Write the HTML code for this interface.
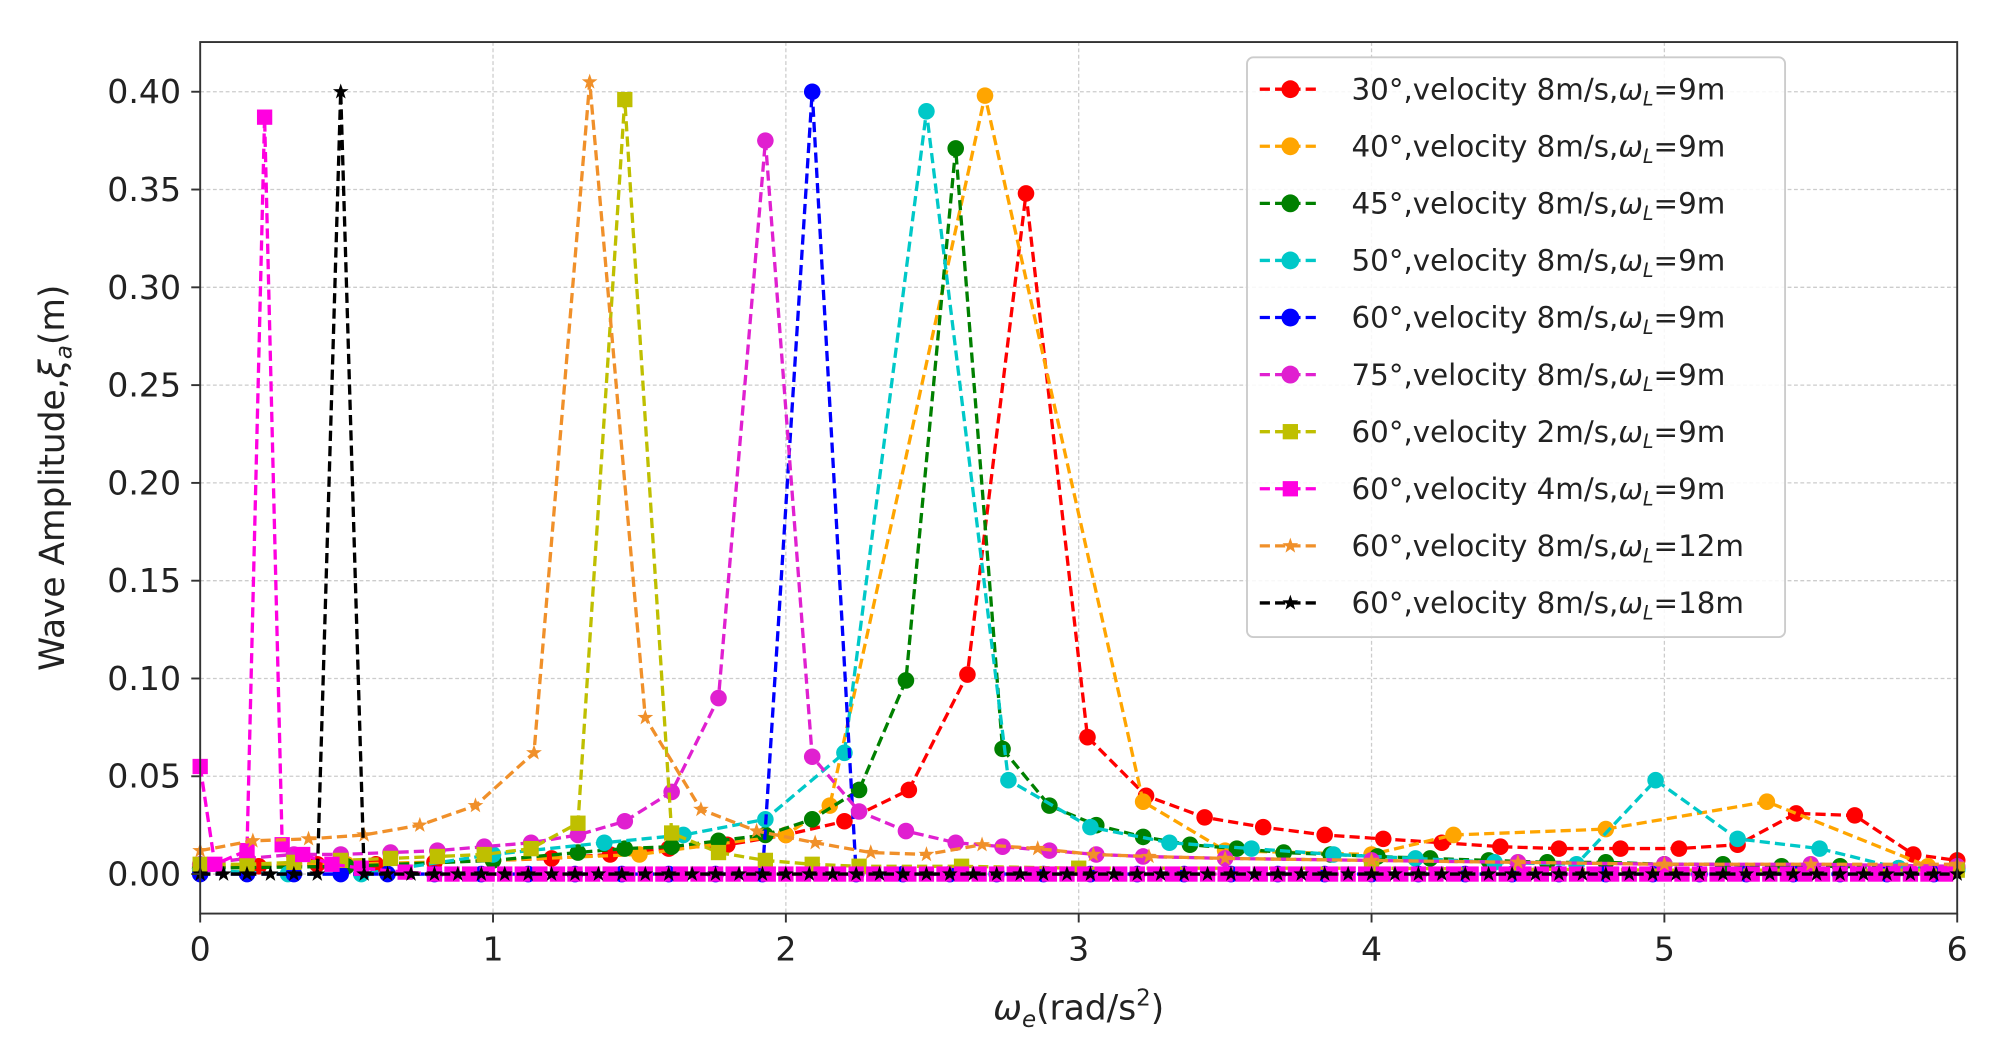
<!DOCTYPE html>
<html><head><meta charset="utf-8"><style>
html,body{margin:0;padding:0;background:#fff;width:1998px;height:1055px;overflow:hidden}
svg{display:block}
text{font-family:"DejaVu Sans","Liberation Sans",sans-serif;fill:#222}
</style></head><body>
<svg id="s" width="1998" height="1055" viewBox="0 0 1567 828" preserveAspectRatio="none" xmlns="http://www.w3.org/2000/svg">
<rect width="1570" height="830" fill="#fff"/>
<g id="grid"></g>
<g id="data"></g>
<rect x="157" y="33" width="1378" height="684" fill="none" stroke="#333" stroke-width="1.5"/>
<g id="ticks"></g>
<text x="0" y="0" font-size="27" transform="translate(50,375) rotate(-90)" text-anchor="middle">Wave Amplitude,<tspan font-style="italic">ξ</tspan><tspan font-size="18" dy="6" font-style="italic">a</tspan><tspan dy="-6">(m)</tspan></text>
<text x="846" y="800" font-size="27" text-anchor="middle"><tspan font-style="italic">ω</tspan><tspan font-size="18" dy="6" font-style="italic">e</tspan><tspan dy="-6">(rad/s</tspan><tspan font-size="18" dy="-11">2</tspan><tspan dy="11">)</tspan></text>
<g id="legend"></g>
</svg>
<script>
const NS="http://www.w3.org/2000/svg";
const X=x=>157+x*229.67, Y=y=>686-y*1535;
function el(t,a,p){const e=document.createElementNS(NS,t);for(const k in a)e.setAttribute(k,a[k]);p.appendChild(e);return e;}
const grid=document.getElementById('grid'),ticks=document.getElementById('ticks'),data=document.getElementById('data'),leg=document.getElementById('legend');
for(let i=0;i<=6;i++){const x=X(i);el('line',{x1:x,x2:x,y1:33,y2:717,stroke:'#ccc','stroke-width':1,'stroke-dasharray':'3,2'},grid);
 el('line',{x1:x,x2:x,y1:717,y2:724,stroke:'#333','stroke-width':1.5},ticks);
 const t=el('text',{x:x,y:754,'font-size':26,'text-anchor':'middle'},ticks);t.textContent=i;}
for(let i=0;i<=8;i++){const v=i*0.05,y=Y(v);el('line',{x1:157,x2:1535,y1:y,y2:y,stroke:'#ccc','stroke-width':1,'stroke-dasharray':'3,2'},grid);
 el('line',{x1:150,x2:157,y1:y,y2:y,stroke:'#333','stroke-width':1.5},ticks);
 const t=el('text',{x:142,y:y+9,'font-size':26,'text-anchor':'end'},ticks);t.textContent=v.toFixed(2);}
function fill(a,b,step,val){const r=[];for(let x=a;x<=b+1e-9;x+=step)r.push([x,typeof val=='function'?val(x):val]);return r;}
const S=[
{c:'#ff0000',m:'o',l:'30°,velocity 8m/s,ω_L=9m',d:[[0,0.003],[0.2,0.004],[0.4,0.005],[0.6,0.005],[0.8,0.006],[1.0,0.007],[1.2,0.008],[1.4,0.01],[1.6,0.013],[1.8,0.015],[2.0,0.02],[2.2,0.027],[2.42,0.043],[2.62,0.102],[2.82,0.348],[3.03,0.07],[3.23,0.04],[3.43,0.029],[3.63,0.024],[3.84,0.02],[4.04,0.018],[4.24,0.016],[4.44,0.014],[4.64,0.013],[4.85,0.013],[5.05,0.013],[5.25,0.015],[5.45,0.031],[5.65,0.03],[5.85,0.01],[6,0.007]]},
{c:'#ffa500',m:'o',l:'40°,velocity 8m/s,ω_L=9m',d:[[0,0.004],[0.5,0.005],[1.0,0.007],[1.5,0.01],[2.0,0.02],[2.15,0.035],[2.68,0.398],[3.22,0.037],[3.5,0.012],[4.0,0.01],[4.28,0.02],[4.8,0.023],[5.35,0.037],[5.9,0.004],[6,0.003]]},
{c:'#008000',m:'o',l:'45°,velocity 8m/s,ω_L=9m',d:[[0,0.003],[0.5,0.004],[1.0,0.007],[1.29,0.011],[1.45,0.013],[1.61,0.014],[1.77,0.017],[1.93,0.02],[2.09,0.028],[2.25,0.043],[2.41,0.099],[2.58,0.371],[2.74,0.064],[2.9,0.035],[3.06,0.025],[3.22,0.019],[3.38,0.015],[3.54,0.013],[3.7,0.011],[3.86,0.01],[4.02,0.009],[4.2,0.008],[4.4,0.007],[4.6,0.006],[4.8,0.006],[5.0,0.005],[5.2,0.005],[5.4,0.004],[5.6,0.004],[5.8,0.003],[6,0.003]]},
{c:'#00c8c8',m:'o',l:'50°,velocity 8m/s,ω_L=9m',d:[[0,0.002],[0.3,0],[0.55,0],[1.0,0.01],[1.38,0.016],[1.65,0.02],[1.93,0.028],[2.2,0.062],[2.48,0.39],[2.76,0.048],[3.04,0.024],[3.31,0.016],[3.59,0.013],[3.87,0.01],[4.15,0.008],[4.42,0.006],[4.7,0.005],[4.97,0.048],[5.25,0.018],[5.53,0.013],[5.8,0.003],[6,0.002]]},
{c:'#0000ff',m:'o',l:'60°,velocity 8m/s,ω_L=9m',d:fill(0,6,0.16,0).map(p=>[p[0],0]).filter(p=>Math.abs(p[0]-2.08)>0.1).concat([[2.09,0.4]]).sort((a,b)=>a[0]-b[0])},
{c:'#e020d0',m:'o',l:'75°,velocity 8m/s,ω_L=9m',d:[[0,0.005],[0.16,0.008],[0.32,0.01],[0.48,0.01],[0.65,0.011],[0.81,0.012],[0.97,0.014],[1.13,0.016],[1.29,0.02],[1.45,0.027],[1.61,0.042],[1.77,0.09],[1.93,0.375],[2.09,0.06],[2.25,0.032],[2.41,0.022],[2.58,0.016],[2.74,0.014],[2.9,0.012],[3.06,0.01],[3.22,0.009],[3.5,0.008],[4,0.007],[4.5,0.006],[5,0.005],[5.5,0.005],[6,0.004]]},
{c:'#bfbf00',m:'s',l:'60°,velocity 2m/s,ω_L=9m',d:[[0,0.005],[0.16,0.005],[0.32,0.006],[0.48,0.007],[0.65,0.008],[0.81,0.009],[0.97,0.01],[1.13,0.013],[1.29,0.026],[1.45,0.396],[1.61,0.021],[1.77,0.011],[1.93,0.007],[2.09,0.005],[2.25,0.004],[2.6,0.004],[3,0.003],[4,0.003],[5,0.002],[6,0.002]]},
{c:'#ff00e0',m:'s',l:'60°,velocity 4m/s,ω_L=9m',d:[[0,0.055],[0.05,0.005],[0.16,0.012],[0.22,0.387],[0.28,0.015],[0.35,0.01],[0.45,0.005],[0.55,0.003],[0.7,0.001]].concat(fill(0.8,6,0.06,0))},
{c:'#f0902a',m:'*',l:'60°,velocity 8m/s,ω_L=12m',d:[[0,0.012],[0.18,0.017],[0.37,0.018],[0.56,0.02],[0.75,0.025],[0.94,0.035],[1.14,0.062],[1.33,0.405],[1.52,0.08],[1.71,0.033],[1.9,0.022],[2.1,0.016],[2.29,0.011],[2.48,0.01],[2.67,0.015],[2.86,0.013],[3.05,0.01],[3.24,0.009],[3.5,0.008],[4,0.007],[4.5,0.006],[5,0.005],[5.5,0.005],[6,0.005]]},
{c:'#000000',m:'*',l:'60°,velocity 8m/s,ω_L=18m',d:fill(0,6,0.08,0).map(p=>[p[0],Math.abs(p[0]-0.48)<0.01?0.4:0])}
];
function star(cx,cy,r){let p=[];for(let i=0;i<10;i++){const a=-Math.PI/2+i*Math.PI/5,rr=i%2?r*0.4:r;p.push((cx+rr*Math.cos(a)).toFixed(1)+','+(cy+rr*Math.sin(a)).toFixed(1));}return p.join(' ');}
function marker(m,c,x,y,g,big){
 if(m=='o')el('circle',{cx:x,cy:y,r:big?7:6.5,fill:c},g);
 else if(m=='s')el('rect',{x:x-6,y:y-6,width:12,height:12,fill:c},g);
 else el('polygon',{points:star(x,y,6.5),fill:c},g);}
S.forEach(s=>{
 const pts=s.d.map(p=>X(p[0]).toFixed(1)+','+Y(p[1]).toFixed(1)).join(' ');
 el('polyline',{points:pts,fill:'none',stroke:s.c,'stroke-width':2.6,'stroke-dasharray':'8,4'},data);
 s.d.forEach(p=>marker(s.m,s.c,X(p[0]),Y(p[1]),data));
});
el('rect',{x:978,y:45,width:422,height:455,rx:5,fill:'#fff','fill-opacity':0.85,stroke:'#ccc','stroke-width':1.5},leg);
S.forEach((s,i)=>{const y=70+i*44.8;
 el('line',{x1:988,x2:1035,y1:y,y2:y,stroke:s.c,'stroke-width':2.6,'stroke-dasharray':'8,4'},leg);
 marker(s.m,s.c,1012,y,leg,true);
 const t=el('text',{x:1060,y:y+8,'font-size':23},leg);
 const parts=s.l.split('ω_L');
 t.appendChild(document.createTextNode(parts[0]));
 const w=el('tspan',{'font-style':'italic'},t);w.textContent='ω';
 const sub=el('tspan',{'font-size':15,dy:5,'font-style':'italic'},t);sub.textContent='L';
 const r=el('tspan',{dy:-5},t);r.textContent=parts[1];
});
</script>
</body></html>
